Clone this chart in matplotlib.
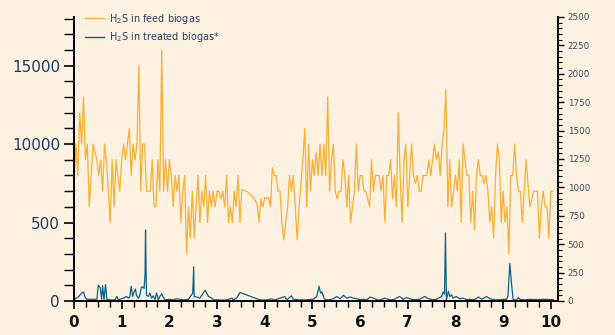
import numpy as np
import matplotlib.pyplot as plt
from matplotlib.ticker import MultipleLocator, FixedLocator

# H2S in feed biogas (ppm, thousands), sampled every 0.04 on the x axis, one list per stretch
feed_start = [0.00, 1.72, 3.40, 5.08, 6.76, 8.44]
feed_a = [7, 10, 8, 12, 10, 13, 9, 10, 6, 8, 10, 9.5, 9, 8, 9, 7, 10, 9, 7, 5,
          9, 6, 9, 8, 7, 9, 10, 9, 10, 11, 8, 10, 9, 10, 15, 7, 10, 10, 7, 7,
          7, 9, 6]
feed_b = [6, 9, 7, 16, 7, 9, 7, 9, 8, 6, 8, 7, 8, 5, 7, 8, 3, 6, 4, 7,
          4, 6, 8, 5, 7, 6, 8, 5, 7, 6, 7, 6, 7, 7, 6.5, 7, 6, 8, 5, 6,
          5, 7]
feed_c = [6, 8, 5, 7.1, 7.05, 7.0, 6.95, 6.85, 6.75, 6.6, 6.4, 6.2, 5, 6.5, 6, 6.6, 6.5, 6.6, 6, 8.5,
          8, 8, 7, 7, 5, 3.9, 5, 6, 8, 7, 8, 6, 3.9, 6, 7.5, 9, 11, 6, 10, 7,
          9, 8]
feed_d = [9.5, 8, 10, 8, 10, 8, 13, 7, 9, 10, 7, 6.5, 7, 7, 9, 8, 6, 8, 5, 6,
          7, 10, 7, 8, 8, 7, 7, 6.5, 6, 9, 7, 8, 8, 8, 7, 8, 5, 8, 8, 9,
          6.5, 8]
feed_e = [6, 12, 8, 5, 9, 10, 6, 8, 10, 8, 7.5, 8, 7, 7, 8, 8, 8, 9, 8, 9,
          10, 9, 9.5, 8, 10, 11, 13.5, 6, 9, 6, 7, 8, 7, 9, 5, 10, 9, 8, 8, 5,
          7, 4.5]
feed_f = [8, 9, 8, 8, 7.5, 8, 7, 5, 6, 4, 8, 10, 9, 5, 7, 5, 6, 3, 8, 8,
          10, 8, 7, 7, 5, 7, 9, 7.5, 6, 6.5, 7, 7, 7, 4, 6, 7, 6, 6, 4, 7,
          7]
feed_step = 0.04

# H2S in treated biogas (ppm)
treated_x = [0.00, 0.02, 0.09, 0.16, 0.20, 0.23, 0.27, 0.34, 0.40, 0.48,
             0.51, 0.55, 0.58, 0.60, 0.63, 0.66, 0.69, 0.76, 0.86, 0.90,
             0.93, 1.03, 1.10, 1.14, 1.17, 1.20, 1.23, 1.26, 1.29, 1.31,
             1.35, 1.38, 1.41, 1.44, 1.47, 1.49, 1.50, 1.52, 1.56, 1.59,
             1.63, 1.66, 1.70, 1.73, 1.77, 1.80, 1.84, 1.87, 1.91, 2.01,
             2.08, 2.15, 2.22, 2.30, 2.40, 2.49, 2.51, 2.52, 2.57, 2.64,
             2.71, 2.75, 2.78, 2.82, 2.89, 2.92, 3.00, 3.13, 3.20, 3.31,
             3.34, 3.41, 3.48, 3.90, 3.98, 4.05, 4.14, 4.20, 4.25, 4.39,
             4.42, 4.46, 4.56, 4.60, 4.74, 4.85, 5.02, 5.09, 5.14, 5.17,
             5.20, 5.23, 5.26, 5.33, 5.44, 5.51, 5.58, 5.65, 5.72, 5.79,
             5.86, 5.93, 6.00, 6.07, 6.14, 6.21, 6.28, 6.35, 6.41, 6.52,
             6.62, 6.70, 6.83, 6.90, 6.97, 7.08, 7.16, 7.25, 7.36, 7.43,
             7.52, 7.60, 7.71, 7.74, 7.77, 7.79, 7.81, 7.85, 7.88, 7.92,
             7.95, 8.01, 8.09, 8.16, 8.23, 8.30, 8.40, 8.48, 8.55, 8.65,
             8.72, 8.80, 8.86, 8.95, 9.03, 9.07, 9.10, 9.14, 9.18, 9.21,
             9.28, 9.32, 9.35, 9.45, 9.56, 9.70, 9.85, 10.05]
treated_ppm = [15, 20, 35, 70, 80, 35, 15, 15, 15, 15,
               140, 115, 15, 135, 10, 145, 15, 10, 10, 40,
               10, 25, 40, 25, 40, 130, 40, 80, 105, 50,
               25, 50, 120, 125, 110, 240, 625, 50, 40, 70,
               25, 45, 15, 70, 10, 40, 62, 35, 10, 15,
               10, 20, 15, 10, 15, 70, 300, 40, 35, 25,
               70, 95, 70, 40, 25, 10, 10, 8, 10, 25,
               10, 25, 75, 10, 8, 10, 20, 8, 15, 35,
               40, 10, 45, 15, 10, 10, 15, 40, 130, 70,
               80, 40, 15, 10, 20, 40, 20, 50, 25, 35,
               25, 20, 12, 15, 10, 35, 25, 12, 8, 25,
               10, 12, 40, 15, 30, 15, 12, 15, 40, 20,
               12, 15, 40, 80, 60, 600, 10, 85, 40, 55,
               25, 40, 20, 25, 12, 15, 12, 35, 15, 40,
               20, 12, 10, 12, 15, 15, 40, 330, 130, 10,
               10, 30, 15, 10, 15, 12, 15, 12]

left_ticks = [0, 5000, 10000, 15000]
left_labels = ["0", "500", "10000", "15000"]

bg = "#fdf2e2"
orange = "#f9ae35"
blue = "#0b6189"

fig = plt.figure(figsize=(6.15, 3.35), dpi=100, facecolor=bg)
ax = fig.add_axes([74 / 615, 1 - 301 / 335, 484 / 615, 284 / 335], facecolor=bg)
ax2 = ax.twinx()

# one continuous feed line built from the stretches
segs = [feed_a, feed_b, feed_c, feed_d, feed_e, feed_f]
feed_x = np.concatenate([s + feed_step * np.arange(len(v)) for s, v in zip(feed_start, segs)])
feed_y = np.concatenate([np.array(v) * 1000 for v in segs])
ax.plot(feed_x, feed_y, color=orange, lw=0.9)

ax2.plot(treated_x, treated_ppm, color=blue, lw=0.9)

ax.set_xlim(0, 10.15)
ax.set_ylim(0, 18100)
ax2.set_ylim(0, 2500)

ax.xaxis.set_major_locator(MultipleLocator(1))
ax.xaxis.set_minor_locator(MultipleLocator(0.25))
ax.yaxis.set_major_locator(FixedLocator(left_ticks))
ax.set_yticklabels(left_labels)
ax.yaxis.set_minor_locator(MultipleLocator(1000))
ax2.yaxis.set_major_locator(MultipleLocator(250))
ax2.yaxis.set_minor_locator(MultipleLocator(50))

for a in (ax, ax2):
    a.spines["top"].set_visible(False)
    for s in a.spines.values():
        s.set_linewidth(1.3)
        s.set_color("black")

ax.tick_params(axis="x", which="major", direction="out", length=6, width=1.2,
               labelsize=11, pad=4, labelcolor="#111111")
ax.tick_params(axis="x", which="minor", direction="out", length=4, width=1.0)
ax.tick_params(axis="y", which="major", direction="out", length=7, width=1.2,
               labelsize=11, pad=3, labelcolor="#1d3b63")
ax.tick_params(axis="y", which="minor", direction="out", length=7, width=1.0)
ax2.tick_params(axis="y", which="major", direction="out", length=4, width=1.0,
                labelsize=6.3, pad=3, labelcolor="#3b4a5c")
ax2.tick_params(axis="y", which="minor", direction="out", length=3, width=0.8)

for lab in ax.get_xticklabels():
    lab.set_fontweight("semibold")

h1, = ax.plot([], [], color=orange, lw=1.0, label=r"H$_2$S in feed biogas")
h2, = ax.plot([], [], color=blue, lw=1.0, label=r"H$_2$S in treated biogas*")
leg = fig.legend(handles=[h1, h2], loc="upper left", bbox_to_anchor=(81 / 615, 1 - 8 / 335),
                 frameon=False, fontsize=7, handlelength=2.0, handletextpad=0.5,
                 labelspacing=0.45, borderaxespad=0)
for t in leg.get_texts():
    t.set_color("#2e3f5c")

fig.savefig("out.png", dpi=100, facecolor=bg)
